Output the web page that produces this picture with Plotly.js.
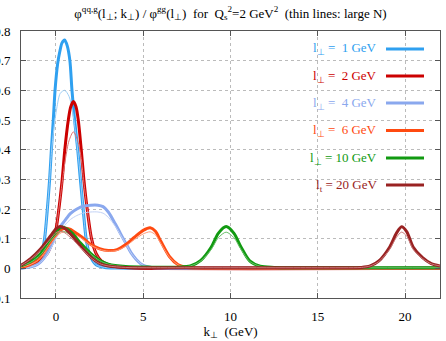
<!DOCTYPE html>
<html>
<head>
<meta charset="utf-8">
<script src="https://cdn.plot.ly/plotly-3.0.1.min.js"></script>
<style>
  html, body { margin: 0; padding: 0; background: #fff; }
  #chart { width: 446px; height: 341px; }
</style>
</head>
<body>
<div id="chart"></div>
<script>
// l_perp = 1 GeV
const k1 = [-2, -1.6, -1.2, -1.0, -0.83, -0.65, -0.49, -0.36, -0.26, -0.15, -0.05, 0.1, 0.22, 0.35, 0.5, 0.65, 0.8, 0.92, 1.07, 1.25, 1.4, 1.56, 1.73, 1.94, 2.3, 2.8, 3.5, 5, 22];
const v1 = [0.001, 0.004, 0.012, 0.025, 0.045, 0.1, 0.2, 0.3, 0.4, 0.5, 0.6, 0.69, 0.73, 0.76, 0.77, 0.75, 0.7, 0.6, 0.5, 0.4, 0.3, 0.2, 0.1, 0.045, 0.012, 0.003, 0.001, 0, 0];
const k1t = [-2, -1.6, -1.2, -1.0, -0.83, -0.65, -0.49, -0.36, -0.26, -0.12, 0.05, 0.25, 0.5, 0.75, 0.95, 1.1, 1.26, 1.41, 1.56, 1.73, 1.94, 2.3, 2.8, 3.5, 5, 22];
const v1t = [0.001, 0.004, 0.012, 0.025, 0.045, 0.1, 0.2, 0.3, 0.39, 0.47, 0.54, 0.59, 0.6, 0.58, 0.53, 0.47, 0.39, 0.3, 0.2, 0.1, 0.045, 0.012, 0.003, 0.001, 0, 0];

// l_perp = 2 GeV
const k2 = [-2, -1.5, -1, -0.5, -0.2, 0, 0.17, 0.36, 0.51, 0.71, 0.85, 1.0, 1.15, 1.28, 1.45, 1.6, 1.79, 2.04, 2.3, 2.6, 3.0, 3.5, 4.5, 22];
const v2 = [0.002, 0.006, 0.02, 0.05, 0.09, 0.13, 0.2, 0.3, 0.4, 0.5, 0.545, 0.562, 0.545, 0.5, 0.4, 0.3, 0.2, 0.1, 0.05, 0.025, 0.012, 0.005, 0.001, 0];
const k2t = [-2, -1.5, -1, -0.5, -0.2, 0, 0.17, 0.36, 0.55, 0.75, 1.0, 1.25, 1.45, 1.6, 1.79, 2.04, 2.3, 2.6, 3.0, 3.5, 4.5, 22];
const v2t = [0.002, 0.006, 0.02, 0.05, 0.09, 0.13, 0.2, 0.29, 0.37, 0.43, 0.46, 0.43, 0.37, 0.29, 0.2, 0.1, 0.05, 0.025, 0.012, 0.005, 0.001, 0];

// l_perp = 4 GeV
const k4 = [-2, -1.5, -1, -0.5, 0, 0.3, 0.5, 0.84, 1.2, 1.6, 2.0, 2.4, 2.7, 3.0, 3.4, 3.7, 4.0, 4.3, 4.6, 5.0, 5.5, 6, 22];
const v4 = [0.001, 0.004, 0.015, 0.05, 0.11, 0.145, 0.16, 0.185, 0.2, 0.21, 0.213, 0.213, 0.208, 0.19, 0.15, 0.117, 0.085, 0.053, 0.03, 0.01, 0.003, 0.001, 0];
const v4t = [0.001, 0.004, 0.015, 0.045, 0.1, 0.13, 0.145, 0.165, 0.178, 0.187, 0.19, 0.19, 0.186, 0.172, 0.142, 0.113, 0.083, 0.052, 0.03, 0.01, 0.003, 0.001, 0];

// l_perp = 6 GeV
const k6 = [-2, -1.5, -1, -0.5, 0, 0.3, 0.55, 0.8, 1.0, 1.5, 2.0, 2.5, 3.0, 3.5, 4.0, 4.5, 5.0, 5.4, 5.7, 6.0, 6.5, 7.0, 7.5, 8.0, 9, 22];
const v6 = [0.004, 0.012, 0.03, 0.07, 0.115, 0.13, 0.135, 0.132, 0.125, 0.105, 0.08, 0.066, 0.06, 0.063, 0.08, 0.105, 0.128, 0.137, 0.125, 0.092, 0.04, 0.012, 0.003, 0.001, 0, 0];
const v6t = [0.004, 0.012, 0.028, 0.065, 0.105, 0.12, 0.123, 0.121, 0.116, 0.1, 0.078, 0.064, 0.058, 0.06, 0.075, 0.097, 0.116, 0.123, 0.113, 0.085, 0.038, 0.012, 0.003, 0.001, 0, 0];

// l_perp = 10 GeV
const k10 = [-2, -1.45, -0.87, -0.3, 0.1, 0.36, 0.7, 1.0, 1.41, 2.0, 2.5, 3.0, 4.0, 5.5, 7.0, 7.7, 8.3, 8.9, 9.3, 9.75, 10.2, 10.6, 11.1, 11.7, 12.5, 14, 22];
const v10 = [0.008, 0.022, 0.05, 0.1, 0.13, 0.139, 0.13, 0.115, 0.085, 0.05, 0.027, 0.014, 0.006, 0.004, 0.004, 0.008, 0.027, 0.072, 0.118, 0.141, 0.118, 0.072, 0.025, 0.007, 0.003, 0.002, 0.002];
const v10t = [0.008, 0.02, 0.046, 0.092, 0.118, 0.125, 0.118, 0.105, 0.08, 0.048, 0.026, 0.014, 0.006, 0.004, 0.004, 0.008, 0.025, 0.064, 0.103, 0.122, 0.103, 0.064, 0.023, 0.007, 0.003, 0.002, 0.002];

// l_perp = 20 GeV
const k20 = [-2, -1.45, -0.87, -0.3, 0.0, 0.23, 0.5, 1.0, 1.41, 2.0, 2.5, 3.0, 4.0, 6, 10, 14, 16.5, 17.5, 18.0, 18.5, 19.12, 19.5, 19.8, 20.1, 20.46, 21.0, 21.5, 22];
const v20 = [0.01, 0.033, 0.066, 0.11, 0.133, 0.141, 0.135, 0.105, 0.075, 0.038, 0.017, 0.008, 0.003, 0.002, 0.002, 0.002, 0.002, 0.003, 0.008, 0.025, 0.072, 0.118, 0.14, 0.123, 0.072, 0.036, 0.016, 0.008];
const v20t = [0.01, 0.031, 0.062, 0.1, 0.12, 0.125, 0.12, 0.095, 0.07, 0.036, 0.016, 0.008, 0.003, 0.002, 0.002, 0.002, 0.002, 0.003, 0.008, 0.023, 0.064, 0.104, 0.122, 0.108, 0.064, 0.033, 0.015, 0.008];

const labels = ["l<sub>⊥</sub> =  1 GeV", "l<sub>⊥</sub> =  2 GeV", "l<sub>⊥</sub> =  4 GeV",
                "l<sub>⊥</sub> =  6 GeV", "l<sub>⊥</sub> = 10 GeV", "l<sub>t</sub> = 20 GeV"];
const colors = ["#2fa0f0", "#cc0000", "#8aa8ee", "#ff4a10", "#119a11", "#992222"];
const thinColors = ["#9dcff7", "#e07070", "#c2d2f6", "#ff9a78", "#6cc06c", "#c97a7a"];

const curves = [
    [k1, v1, k1t, v1t],
    [k2, v2, k2t, v2t],
    [k4, v4, k4, v4t],
    [k6, v6, k6, v6t],
    [k10, v10, k10, v10t],
    [k20, v20, k20, v20t]
];

const FONT = "Liberation Serif, Times New Roman, serif";

const traces = [];
curves.forEach((c, i) => {
    traces.push({
        x: c[0], y: c[1], mode: "lines", type: "scatter",
        line: { color: colors[i], width: 3, shape: "spline", smoothing: 0.8 },
        hoverinfo: "skip", showlegend: false
    });
    traces.push({
        x: c[2], y: c[3], mode: "lines", type: "scatter",
        line: { color: thinColors[i], width: 1, shape: "spline", smoothing: 0.8 },
        hoverinfo: "skip", showlegend: false
    });
});

// legend: text on the left, line sample on the right
const legendY = [49, 76, 103, 130.5, 158, 185];
const H = 341, TOP = 31, BOT = 298;
const annotations = [];
const shapes = [];
labels.forEach((t, i) => {
    const yp = 1 - (legendY[i] - TOP) / (BOT - TOP);
    annotations.push({
        text: t, xref: "paper", yref: "paper",
        x: (379 - 21) / (440 - 21), y: yp, xanchor: "right", yanchor: "middle",
        showarrow: false, font: { family: FONT, size: 13, color: colors[i] }
    });
    shapes.push({
        type: "line", xref: "paper", yref: "paper",
        x0: (386 - 21) / (440 - 21), x1: (424 - 21) / (440 - 21), y0: yp, y1: yp,
        line: { color: colors[i], width: 3 }
    });
});

const layout = {
    width: 446, height: 341,
    margin: { l: 21, r: 6, t: 31, b: 43 },
    paper_bgcolor: "#fff", plot_bgcolor: "#fff",
    font: { family: FONT, size: 13, color: "#000" },
    title: {
        text: "φ<sup>qq,g</sup>(l<sub>⊥</sub>; k<sub>⊥</sub>) / φ<sup>gg</sup>(l<sub>⊥</sub>)  for  Q<sub>s</sub><sup>2</sup>=2 GeV<sup>2</sup>  (thin lines: large N)",
        x: 0.5, xref: "paper", y: 1 - 13 / H, yref: "container", yanchor: "middle",
        font: { family: FONT, size: 13, color: "#000" }
    },
    xaxis: {
        range: [-2, 22], tickvals: [0, 5, 10, 15, 20],
        ticks: "inside", ticklen: 5, tickcolor: "#555", mirror: "ticks",
        showline: true, linecolor: "#555", linewidth: 1,
        showgrid: true, gridcolor: "#bbb", griddash: "dot", gridwidth: 1,
        zeroline: false, ticklabelstandoff: 6,
        tickfont: { family: FONT, size: 13, color: "#000" },
        title: { text: "k<sub>⊥</sub>  (GeV)", standoff: 3, font: { family: FONT, size: 13, color: "#000" } }
    },
    yaxis: {
        range: [-0.1, 0.8], dtick: 0.1, tick0: 0,
        ticks: "inside", ticklen: 5, tickcolor: "#555", mirror: "ticks",
        showline: true, linecolor: "#555", linewidth: 1,
        showgrid: true, gridcolor: "#bbb", griddash: "dot", gridwidth: 1,
        zeroline: false, ticklabelstandoff: 7,
        tickfont: { family: FONT, size: 13, color: "#000" }
    },
    annotations: annotations,
    shapes: shapes,
    showlegend: false
};

Plotly.newPlot("chart", traces, layout, { staticPlot: true, displayModeBar: false });
</script>
</body>
</html>
